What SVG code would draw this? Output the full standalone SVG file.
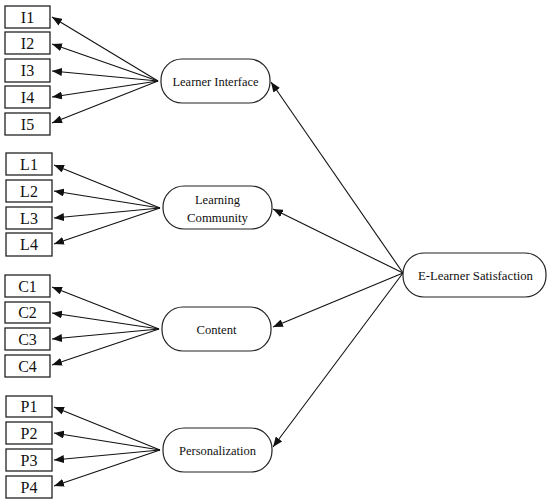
<svg xmlns="http://www.w3.org/2000/svg" width="550" height="503" viewBox="0 0 550 503">
<defs>
<marker id="ah" markerUnits="userSpaceOnUse" markerWidth="11" markerHeight="8" refX="10" refY="4" orient="auto">
<path d="M0,0 L10,4 L0,8 z" fill="#111"/>
</marker>
<style>
.box{fill:#fff;stroke:#222;stroke-width:1.3}
.lat{fill:#fff;stroke:#222;stroke-width:1.2}
.ind{font-family:"Liberation Serif","Times New Roman",serif;font-size:16px;fill:#111;text-anchor:middle}
.lt{font-family:"Liberation Serif","Times New Roman",serif;font-size:13.5px;fill:#111;text-anchor:middle}
.c line{stroke:#111;stroke-width:1.1;marker-end:url(#ah)}
</style>
</defs>
<rect width="550" height="503" fill="#fff"/>
<g class="c" id="connectors">
<line x1="158" y1="81" x2="52" y2="17"/>
<line x1="158" y1="81" x2="52" y2="44"/>
<line x1="158" y1="81" x2="52" y2="71"/>
<line x1="158" y1="81" x2="52" y2="97"/>
<line x1="158" y1="81" x2="52" y2="123"/>
<line x1="160" y1="208" x2="54" y2="165"/>
<line x1="160" y1="208" x2="54" y2="191"/>
<line x1="160" y1="208" x2="54" y2="218"/>
<line x1="160" y1="208" x2="54" y2="244"/>
<line x1="159" y1="329" x2="52" y2="287"/>
<line x1="159" y1="329" x2="52" y2="313"/>
<line x1="159" y1="329" x2="52" y2="339"/>
<line x1="159" y1="329" x2="52" y2="365"/>
<line x1="160" y1="450" x2="54" y2="407"/>
<line x1="160" y1="450" x2="54" y2="433"/>
<line x1="160" y1="450" x2="54" y2="460"/>
<line x1="160" y1="450" x2="54" y2="486"/>
<line x1="403" y1="273" x2="271" y2="82"/>
<line x1="403" y1="273" x2="273" y2="209"/>
<line x1="403" y1="273" x2="273" y2="327"/>
<line x1="403" y1="273" x2="273" y2="447"/>
</g>
<g id="I1"><rect class="box" x="5" y="6" width="45" height="22"/><text class="ind" x="27.5" y="22.5">I1</text></g>
<g id="I2"><rect class="box" x="5" y="32" width="45" height="22"/><text class="ind" x="27.5" y="48.5">I2</text></g>
<g id="I3"><rect class="box" x="5" y="59" width="45" height="23"/><text class="ind" x="27.5" y="76">I3</text></g>
<g id="I4"><rect class="box" x="5" y="86" width="45" height="22"/><text class="ind" x="27.5" y="102.5">I4</text></g>
<g id="I5"><rect class="box" x="5" y="113" width="45" height="22"/><text class="ind" x="27.5" y="129.5">I5</text></g>
<g id="L1"><rect class="box" x="6" y="153" width="46" height="22"/><text class="ind" x="29" y="169.5">L1</text></g>
<g id="L2"><rect class="box" x="6" y="180" width="46" height="22"/><text class="ind" x="29" y="196.5">L2</text></g>
<g id="L3"><rect class="box" x="6" y="207" width="46" height="22"/><text class="ind" x="29" y="223.5">L3</text></g>
<g id="L4"><rect class="box" x="6" y="233" width="46" height="23"/><text class="ind" x="29" y="250">L4</text></g>
<g id="C1"><rect class="box" x="5" y="275" width="45" height="22"/><text class="ind" x="27.5" y="291.5">C1</text></g>
<g id="C2"><rect class="box" x="5" y="302" width="45" height="21"/><text class="ind" x="27.5" y="318">C2</text></g>
<g id="C3"><rect class="box" x="5" y="328" width="45" height="22"/><text class="ind" x="27.5" y="344.5">C3</text></g>
<g id="C4"><rect class="box" x="5" y="355" width="45" height="22"/><text class="ind" x="27.5" y="371.5">C4</text></g>
<g id="P1"><rect class="box" x="6" y="396" width="46" height="21"/><text class="ind" x="29" y="412">P1</text></g>
<g id="P2"><rect class="box" x="6" y="422" width="46" height="22"/><text class="ind" x="29" y="438.5">P2</text></g>
<g id="P3"><rect class="box" x="6" y="449" width="46" height="22"/><text class="ind" x="29" y="465.5">P3</text></g>
<g id="P4"><rect class="box" x="6" y="476" width="46" height="22"/><text class="ind" x="29" y="492.5">P4</text></g>
<g id="LearnerInterface"><rect class="lat" x="161" y="59" width="109" height="44" rx="21" ry="21"/><text class="lt" x="215.5" y="86" textLength="86" lengthAdjust="spacingAndGlyphs">Learner Interface</text></g>
<g id="LearningCommunity"><rect class="lat" x="163" y="186" width="109" height="43" rx="21" ry="21"/><text class="lt" x="217.5" y="203.5" textLength="45" lengthAdjust="spacingAndGlyphs">Learning</text><text class="lt" x="217.5" y="221.5" textLength="61" lengthAdjust="spacingAndGlyphs">Community</text></g>
<g id="Content"><rect class="lat" x="162" y="307" width="109" height="44" rx="21" ry="21"/><text class="lt" x="216.5" y="333.5" textLength="40" lengthAdjust="spacingAndGlyphs">Content</text></g>
<g id="Personalization"><rect class="lat" x="163" y="428" width="109" height="44" rx="21" ry="21"/><text class="lt" x="217.5" y="454.5" textLength="77" lengthAdjust="spacingAndGlyphs">Personalization</text></g>
<g id="ELearnerSatisfaction"><rect class="lat" x="403" y="253" width="143" height="44" rx="21" ry="21"/><text class="lt" x="475.5" y="279.5" textLength="115" lengthAdjust="spacingAndGlyphs">E-Learner Satisfaction</text></g>
</svg>
